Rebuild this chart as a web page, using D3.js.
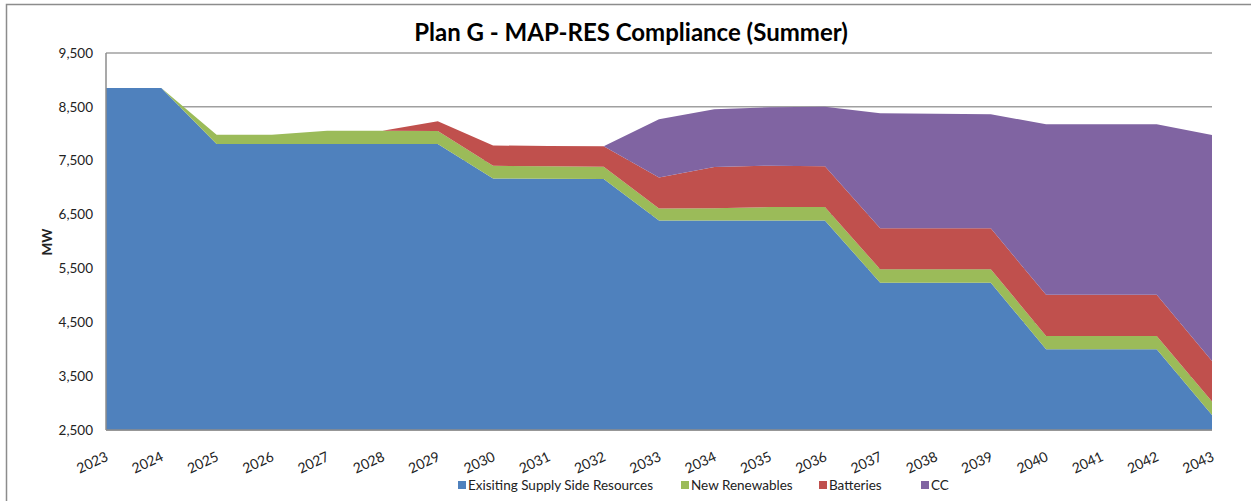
<!DOCTYPE html>
<html>
<head>
<meta charset="utf-8">
<script src="https://cdn.jsdelivr.net/npm/d3@7"></script>
<style>
  body { margin: 0; background: #fff; }
  svg { font-family: Lato, "Open Sans", sans-serif; }
</style>
</head>
<body>
<div id="vis"></div>
<script>

// chart data
var years = [2023, 2024, 2025, 2026, 2027, 2028, 2029, 2030, 2031, 2032, 2033,
             2034, 2035, 2036, 2037, 2038, 2039, 2040, 2041, 2042, 2043];

var existing = [8850, 8850, 7810, 7810, 7810, 7810, 7810, 7170, 7165, 7160, 6390,
                6390, 6390, 6390, 5236, 5236, 5236, 4000, 4000, 4000, 2780];
var renewables = [0, 0, 170, 170, 248, 248, 242, 235, 230, 230, 222,
                  228, 250, 250, 247, 247, 247, 247, 247, 247, 247];
var batteries = [0, 0, 0, 0, 0, 0, 180, 378, 378, 379, 575,
                 763, 768, 756, 762, 762, 762, 762, 762, 762, 755];
var cc = [0, 0, 0, 0, 0, 0, 0, 0, 0, 0, 1083,
          1076, 1084, 1104, 2135, 2125, 2117, 3169, 3169, 3169, 4197];

var seriesNames = ['Exisiting Supply Side Resources', 'New Renewables', 'Batteries', 'CC'];
var seriesKeys = ['existing', 'renewables', 'batteries', 'cc'];
var seriesColors = ['#4f81bd', '#9bbb59', '#c0504d', '#8064a2'];

var yTicks = [2500, 3500, 4500, 5500, 6500, 7500, 8500, 9500];

var chartTitle = 'Plan G - MAP-RES Compliance (Summer)';

// canvas and plot area
var width = 1251;
var height = 501;
var plot = { left: 106, right: 1212, top: 53, bottom: 430 };

var svg = d3.select('#vis')
  .append('svg')
  .attr('width', width)
  .attr('height', height);

// outer chart frame (right and bottom run off the page)
svg.append('rect')
  .attr('x', 6.5)
  .attr('y', 4.5)
  .attr('width', 1300)
  .attr('height', 560)
  .attr('fill', 'none')
  .attr('stroke', '#8c8c8c')
  .attr('stroke-width', 1.5);

// build rows for the stack
var rows = years.map(function(y, i) {
  return {
    year: y,
    existing: existing[i],
    renewables: renewables[i],
    batteries: batteries[i],
    cc: cc[i]
  };
});

var stacked = d3.stack().keys(seriesKeys)(rows);

var x = d3.scaleLinear()
  .domain([years[0], years[years.length - 1]])
  .range([plot.left, plot.right]);

var y = d3.scaleLinear()
  .domain([2500, 9500])
  .range([plot.bottom, plot.top]);

// gridlines
svg.append('g')
  .selectAll('line')
  .data(yTicks)
  .enter()
  .append('line')
  .attr('x1', plot.left)
  .attr('x2', plot.right)
  .attr('y1', function(d) { return y(d); })
  .attr('y2', function(d) { return y(d); })
  .attr('stroke', '#a0a0a0')
  .attr('stroke-width', 1.5);

// stacked areas
var area = d3.area()
  .x(function(d) { return x(d.data.year); })
  .y0(function(d) { return y(Math.max(d[0], 2500)); })
  .y1(function(d) { return y(d[1]); });

svg.append('g')
  .selectAll('path')
  .data(stacked)
  .enter()
  .append('path')
  .attr('d', area)
  .attr('fill', function(d, i) { return seriesColors[i]; });

// axis lines
svg.append('line')
  .attr('x1', plot.left).attr('x2', plot.left)
  .attr('y1', plot.top).attr('y2', plot.bottom)
  .attr('stroke', '#8c8c8c')
  .attr('stroke-width', 1.5);

svg.append('line')
  .attr('x1', plot.left).attr('x2', plot.right)
  .attr('y1', plot.bottom).attr('y2', plot.bottom)
  .attr('stroke', '#8c8c8c')
  .attr('stroke-width', 1.5);

// y tick labels
var fmt = d3.format(',');
svg.append('g')
  .selectAll('text')
  .data(yTicks)
  .enter()
  .append('text')
  .attr('x', 93)
  .attr('y', function(d) { return y(d); })
  .attr('dy', '0.35em')
  .attr('text-anchor', 'end')
  .attr('font-size', 13.5)
  .attr('fill', '#222')
  .text(function(d) { return fmt(d); });

// x tick labels, slanted
svg.append('g')
  .selectAll('text')
  .data(years)
  .enter()
  .append('text')
  .attr('transform', function(d) {
    return 'translate(' + (x(d) + 3) + ',460) rotate(-25)';
  })
  .attr('text-anchor', 'end')
  .attr('font-size', 14)
  .attr('fill', '#222')
  .text(function(d) { return d; });

// y axis title
svg.append('text')
  .attr('transform', 'translate(52,242) rotate(-90)')
  .attr('text-anchor', 'middle')
  .attr('font-size', 13.5)
  .attr('font-weight', 'bold')
  .attr('fill', '#222')
  .text('MW');

// chart title
svg.append('text')
  .attr('x', 631)
  .attr('y', 41)
  .attr('text-anchor', 'middle')
  .attr('font-size', 24)
  .attr('font-weight', 'bold')
  .attr('fill', '#000')
  .text(chartTitle);

// legend
var legendX = [458, 681, 819, 921];
var legend = svg.append('g')
  .selectAll('g')
  .data(seriesNames)
  .enter()
  .append('g')
  .attr('transform', function(d, i) { return 'translate(' + legendX[i] + ',485)'; });

legend.append('rect')
  .attr('x', 0)
  .attr('y', -4)
  .attr('width', 8)
  .attr('height', 8)
  .attr('fill', function(d, i) { return seriesColors[i]; });

legend.append('text')
  .attr('x', 10)
  .attr('dy', '0.35em')
  .attr('font-size', 13.5)
  .attr('fill', '#222')
  .text(function(d) { return d; });

</script>
</body>
</html>
